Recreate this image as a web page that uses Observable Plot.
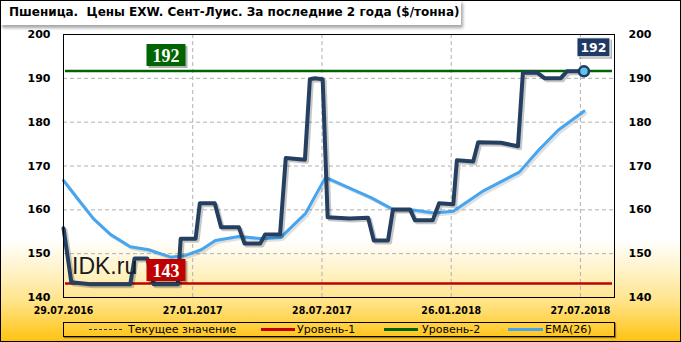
<!DOCTYPE html>
<html><head><meta charset="utf-8">
<script src="https://cdn.jsdelivr.net/npm/d3@7"></script>
<script src="https://cdn.jsdelivr.net/npm/@observablehq/plot@0.6"></script>
<style>
html,body{margin:0;padding:0;background:#fff;}
#wrap{position:relative;width:681px;height:342px;overflow:hidden;
 background:linear-gradient(to bottom,#ffffff 0%,#ffffff 70%,#fff4cf 78%,#ffe48a 88%,#ffc20e 100%);}
#border{position:absolute;left:0;top:0;width:681px;height:342px;box-sizing:border-box;border:1px solid #000;pointer-events:none;}
#title{position:absolute;left:0;top:0;width:461px;height:25px;background:#fff;box-shadow:2px 3px 3px rgba(0,0,0,0.35);
 font:bold 12px "DejaVu Sans";line-height:25px;padding-left:9px;box-sizing:border-box;white-space:pre;color:#000;}
#chart{position:absolute;left:0;top:0;}
#wm{position:absolute;left:72px;top:253px;font:23px "Liberation Sans";color:#1a1a1a;}
#legend{position:absolute;left:63px;top:322px;width:552px;height:15px;box-sizing:border-box;border:1px solid #000;box-shadow:1px 1px 1px rgba(0,0,0,0.4);}
.li{position:absolute;top:0;height:13px;font:11px "DejaVu Sans";line-height:13px;white-space:nowrap;}
.sw{position:absolute;top:6px;height:0;}
</style></head>
<body>
<div id="wrap">
  <div id="chart"></div>
  <div id="wm">IDK.ru</div>
  <div id="title"></div>
  <div id="legend"></div>
  <div id="border"></div>
</div>
<script>
// ---- data ----
const titleText = "Пшеница.  Цены EXW. Сент-Луис. За последние 2 года ($/тонна)";
const priceDates = ["2016-07-29","2016-08-09","2016-09-05","2016-10-31","2016-11-06","2016-11-24","2016-12-03","2017-01-06","2017-01-10","2017-01-31","2017-02-06","2017-02-27","2017-03-08","2017-04-02","2017-04-10","2017-05-02","2017-05-09","2017-05-30","2017-06-07","2017-07-04","2017-07-11","2017-07-18","2017-07-29","2017-08-05","2017-09-05","2017-10-01","2017-10-09","2017-10-29","2017-11-05","2017-11-29","2017-12-06","2017-12-31","2018-01-09","2018-01-29","2018-02-03","2018-02-26","2018-03-05","2018-04-06","2018-04-30","2018-05-07","2018-05-27","2018-06-07","2018-06-29","2018-07-08","2018-08-01"];
const priceValues = [155.8,143.5,143.0,143.0,148.9,148.9,143.0,143.0,153.4,153.4,161.5,161.5,156.0,156.0,152.3,152.3,154.4,154.4,171.8,171.4,189.8,190.0,189.8,158.3,158.0,158.2,153.0,153.0,160.1,160.1,157.6,157.6,161.5,161.3,171.3,171.0,175.4,175.3,174.5,191.3,191.3,190.0,190.0,191.6,191.6];
const emaDates = ["2016-07-29","2016-08-19","2016-09-09","2016-10-03","2016-10-31","2016-11-26","2016-12-27","2017-01-17","2017-02-08","2017-02-28","2017-04-02","2017-05-06","2017-05-31","2017-07-05","2017-08-02","2017-10-05","2017-11-05","2017-11-28","2018-01-02","2018-01-29","2018-03-13","2018-05-02","2018-05-29","2018-06-26","2018-08-01"];
const emaValues = [166.7,162.3,158.0,154.4,151.6,150.9,149.2,149.6,150.9,153.0,153.9,153.4,153.7,159.2,167.4,162.8,160.1,160.1,159.3,159.7,164.4,168.6,173.6,178.2,182.5];
const level1 = 143.2, level1Label = "143";
const level2 = 191.7, level2Label = "192";
const currentLabel = "192";
const yTicks = [140,150,160,170,180,190,200];
const xTicks = ["2016-07-29","2017-01-27","2017-07-28","2018-01-26","2018-07-27"];
const xDomain = ["2016-07-29","2018-09-13"];
const legendItems = ["Текущее значение","Уровень-1","Уровень-2","EMA(26)"];

// ---- build ----
const P = (s) => new Date(s + "T00:00:00Z");
const price = priceDates.map((d,i)=>({date:P(d), value:priceValues[i]}));
const ema = emaDates.map((d,i)=>({date:P(d), value:emaValues[i]}));
const last = price[price.length-1];
const box = (w,h) => ({draw(ctx){ctx.moveTo(-w/2,-h/2);ctx.lineTo(w/2,-h/2);ctx.lineTo(w/2,h/2);ctx.lineTo(-w/2,h/2);ctx.closePath();}});
const fmt = d3.utcFormat("%d.%m.%Y");
const navy = "#1f3864";

const chart = Plot.plot({
  width: 681, height: 342,
  marginLeft: 63, marginRight: 67, marginTop: 34, marginBottom: 45,
  style: {background:"transparent", fontFamily:"DejaVu Sans", color:"#000", overflow:"visible"},
  x: {type:"utc", domain: xDomain.map(P)},
  y: {domain:[140,200]},
  marks: [
    Plot.gridY(yTicks, {stroke:"#b0b0b0", strokeOpacity:1, strokeDasharray:"4,3"}),
    Plot.gridX(xTicks.map(P), {stroke:"#b0b0b0", strokeOpacity:1, strokeDasharray:"4,3"}),
    Plot.axisY(yTicks, {anchor:"left", label:null, tickSize:0, tickPadding:13, fontWeight:"bold", fontSize:11}),
    Plot.axisY(yTicks, {anchor:"right", label:null, tickSize:0, tickPadding:14, fontWeight:"bold", fontSize:11}),
    Plot.axisX(xTicks.map(P), {label:null, tickSize:0, tickPadding:9, tickFormat: fmt, fontWeight:"bold", fontSize:10.5, fontFamily:"DejaVu Sans Condensed"}),
    Plot.ruleY([level1], {stroke:"#c00000", strokeWidth:2.5, insetLeft:2, insetRight:2}),
    Plot.ruleY([level2], {stroke:"#006400", strokeWidth:2.5, insetLeft:2, insetRight:2}),
    Plot.line(ema, {x:"date", y:"value", stroke:"#000", strokeOpacity:0.12, strokeWidth:3, dx:2, dy:2, strokeLinejoin:"round"}),
    Plot.line(ema, {x:"date", y:"value", stroke:"#45a5f0", strokeWidth:3, strokeLinejoin:"round"}),
    Plot.line(price, {x:"date", y:"value", stroke:"#000", strokeOpacity:0.22, strokeWidth:4, dx:2, dy:2, strokeLinejoin:"round"}),
    Plot.line(price, {x:"date", y:"value", stroke:"#243f60", strokeWidth:4, strokeLinejoin:"round", strokeLinecap:"round"}),
    // level labels
    Plot.dot([level2], {y:d=>d, frameAnchor:"left", dx:104.5, dy:-14, r:10, symbol:box(39,22), fill:"#000", fillOpacity:0.3}),
    Plot.dot([level2], {y:d=>d, frameAnchor:"left", dx:102.5, dy:-16, r:10, symbol:box(39,22), fill:"#006400"}),
    Plot.text([level2], {y:d=>d, text:()=>level2Label, frameAnchor:"left", textAnchor:"middle", dx:102.5, dy:-15, fill:"#fff", fontFamily:"Liberation Serif", fontWeight:"bold", fontSize:18}),
    Plot.dot([level1], {y:d=>d, frameAnchor:"left", dx:104.5, dy:-11.5, r:10, symbol:box(39,22), fill:"#000", fillOpacity:0.3}),
    Plot.dot([level1], {y:d=>d, frameAnchor:"left", dx:102.5, dy:-13.5, r:10, symbol:box(39,22), fill:"#c00000"}),
    Plot.text([level1], {y:d=>d, text:()=>level1Label, frameAnchor:"left", textAnchor:"middle", dx:102.5, dy:-12.5, fill:"#fff", fontFamily:"Liberation Serif", fontWeight:"bold", fontSize:18}),
    // current value
    Plot.dot([last], {x:"date", y:"value", r:5, fill:"#5ec3e6", stroke:navy, strokeWidth:2.5}),
    Plot.dot([last], {x:"date", y:"value", dx:11.5, dy:-22, r:10, symbol:box(33,19), fill:"#000", fillOpacity:0.3}),
    Plot.dot([last], {x:"date", y:"value", dx:9.5, dy:-24, r:10, symbol:box(33,19), fill:navy, stroke:"#fff", strokeWidth:1}),
    Plot.text([last], {x:"date", y:"value", text:()=>currentLabel, textAnchor:"middle", dx:9.5, dy:-23.5, fill:"#fff", fontWeight:"bold", fontSize:12.5}),
    Plot.frame({stroke:"#000", strokeWidth:1})
  ]
});
document.getElementById("chart").appendChild(chart);
document.getElementById("title").textContent = titleText;

// legend
const lg = document.getElementById("legend");
const specs = [
  {sw:[25,58], text:64, style:"border-top:1.5px dashed #333;"},
  {sw:[197,231], text:233, style:"border-top:3px solid #c00000;top:5px;"},
  {sw:[320,354], text:358, style:"border-top:3px solid #006400;top:5px;"},
  {sw:[444,479], text:481, style:"border-top:3.5px solid #45a5f0;top:4.5px;"}
];
legendItems.forEach((t,i)=>{
  const s = specs[i];
  const sw = document.createElement("div");
  sw.className="sw"; sw.style.cssText = `left:${s.sw[0]}px;width:${s.sw[1]-s.sw[0]}px;` + s.style;
  lg.appendChild(sw);
  const tx = document.createElement("div");
  tx.className="li"; tx.style.left = s.text+"px"; tx.textContent = t;
  lg.appendChild(tx);
});
</script>
</body></html>
